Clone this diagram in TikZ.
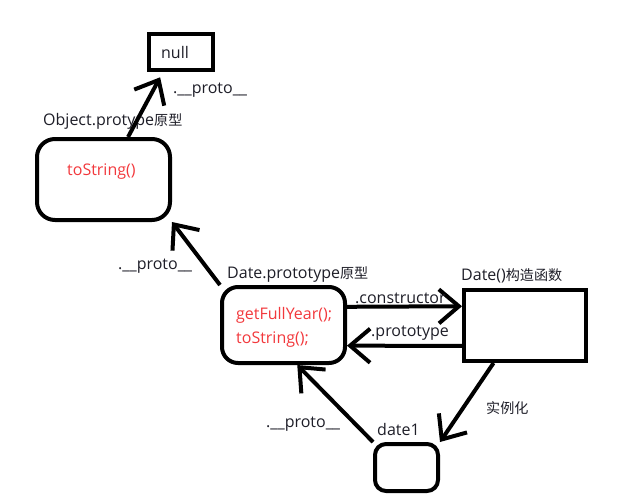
\documentclass[tikz,border=0pt]{standalone}
\usepackage{fontspec}
\setmainfont{Open Sans}
\newfontfamily\cjk[Scale=0.88]{Noto Sans CJK SC}
\usetikzlibrary{arrows.meta,positioning}
\definecolor{Ltext}{HTML}{1E1E28}
\definecolor{Lfunc}{HTML}{F2383C}

\begin{document}
\begin{tikzpicture}[x=1pt, y=-1pt,
  font=\fontsize{16}{18}\selectfont, text=Ltext,
  >={Straight Barb[length=20pt,width=34pt]},
  sqbox/.style ={draw, line width=4pt, inner sep=0pt},
  rbox/.style  ={draw, line width=4pt, inner sep=0pt},
  link/.style  ={->, line width=4pt},
  lbl/.style   ={anchor=west, inner sep=0pt, yshift=-1.5pt},
  func/.style  ={anchor=west, inner sep=0pt, yshift=-4pt, text=Lfunc},
]
\useasboundingbox (0,0) rectangle (637,501);

% ── Prototype chain: null and Object.prototype ───────────────────────
\node[sqbox, minimum width=64pt, minimum height=36pt] (null) at (181,52) {\raisebox{-1.5pt}{null}\hspace*{12pt}};
\node[rbox, rounded corners=18pt, minimum width=133pt, minimum height=81pt] (objproto) at (103.5,179.5) {};
\node[lbl] (objlab) at (43,120) {Object.protype{\cjk 原型}};
\node[func] (objfn) at (67,168) {toString()};

% ── Date.prototype ───────────────────────────────────────────────────
\node[rbox, rounded corners=16pt, minimum width=123pt, minimum height=76pt] (dproto) at (283.5,325) {};
\node[lbl] (dprotolab) at (227,273) {Date.prototype{\cjk 原型}};
\node[func] (dfn1) at (236,311) {getFullYear();};
\node[func] (dfn2) at (236,336) {toString();};

% ── Date() constructor ───────────────────────────────────────────────
\node[sqbox, minimum width=122pt, minimum height=71pt] (dctor) at (525,325.5) {};
\node[lbl] (dctorlab) at (461,274) {Date(){\cjk 构造函数}};

% ── Instance ─────────────────────────────────────────────────────────
\node[rbox, rounded corners=11pt, minimum width=63pt, minimum height=47pt] (date1) at (406.5,467.5) {};
\node[lbl] (date1lab) at (377,428) {date1};

% ── Links ────────────────────────────────────────────────────────────
\draw[link, shorten >=6pt] (objproto.60) -- (null.228);
\node[lbl] (p1) at (173,89) {.\_\_proto\_\_};

\draw[link] (dproto.north west) -- (objproto.south east);
\node[lbl] (p2) at (118,265) {.\_\_proto\_\_};

\draw[link] (dproto.16) -- (dctor.163);
\node[lbl] (ctorlab) at (355,297) {.constructor};

\draw[link] (dctor.198) -- (dproto.-18);
\node[lbl] (protlab) at (371,332) {.prototype};

\draw[link] (dctor.230) -- (date1.north east);
\node[lbl] (newlab) at (486,407) {\cjk 实例化};

\draw[link] (date1.north west) -- (dproto.-71);
\node[lbl] (p3) at (266,423) {.\_\_proto\_\_};

\end{tikzpicture}
\end{document}
